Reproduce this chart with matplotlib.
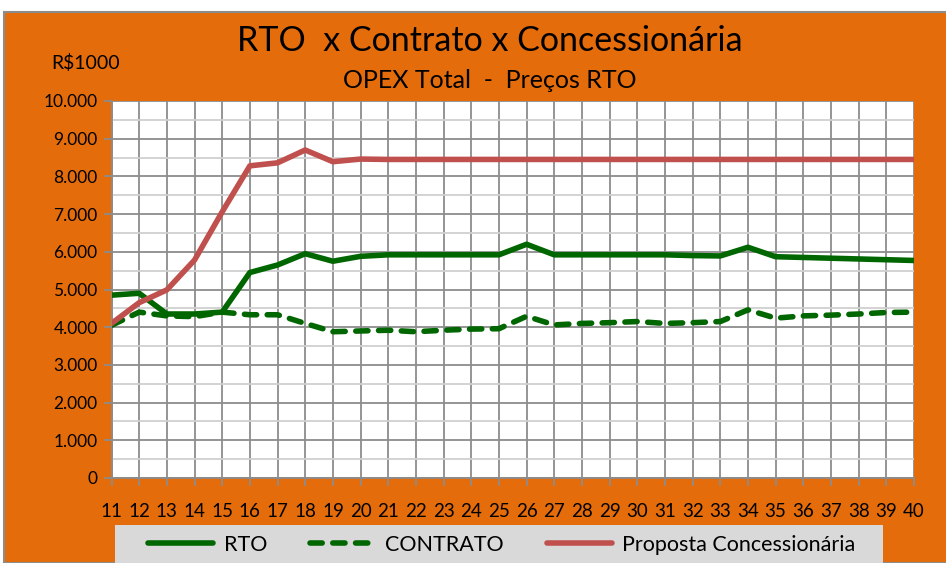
import matplotlib
matplotlib.use("Agg")
import matplotlib.pyplot as plt
from matplotlib.patches import Rectangle
from matplotlib.ticker import FuncFormatter, MultipleLocator
from matplotlib.lines import Line2D

plt.rcParams['font.family'] = ['Lato', 'DejaVu Sans']

anos = list(range(11, 41))
rto = [4850, 4900, 4350, 4350, 4400, 5450, 5650, 5950, 5750, 5880,
       5920, 5920, 5920, 5920, 5920, 6200, 5920, 5920, 5920, 5920,
       5920, 5900, 5890, 6120, 5870, 5850, 5830, 5810, 5790, 5770]
contrato = [4050, 4400, 4300, 4280, 4400, 4330, 4330, 4100, 3880, 3900,
            3920, 3880, 3920, 3950, 3960, 4290, 4060, 4100, 4120, 4150,
            4100, 4120, 4150, 4460, 4240, 4300, 4320, 4350, 4390, 4400]
proposta = [4100, 4650, 4990, 5780, 7060, 8280, 8360, 8700, 8390, 8460,
            8450, 8450, 8450, 8450, 8450, 8450, 8450, 8450, 8450, 8450,
            8450, 8450, 8450, 8450, 8450, 8450, 8450, 8450, 8450, 8450]

laranja = '#E46C0A'
verde = '#006600'
vermelho = '#C0504D'
tracos = (0, (2.2, 1.9))

fig = plt.figure(figsize=(9.46, 5.63), dpi=100)
fig.patch.set_facecolor('white')
fig.patches.append(Rectangle((4 / 946, 0), 1, (563 - 12) / 563, transform=fig.transFigure,
                             facecolor=laranja, edgecolor='#8c8c8c', lw=1.5, zorder=-2))
fig.patches.append(Rectangle((115 / 946, 0), (883 - 115) / 946, (563 - 525) / 563,
                             transform=fig.transFigure, facecolor='#d9d9d9', edgecolor='none', zorder=-1))

ax = fig.add_axes([111.5 / 946, 1 - 478 / 563, (914 - 111.5) / 946, (478 - 101) / 563])
ax.set_zorder(3)
ax.set_facecolor('white')
ax.plot(anos, rto, color=verde, lw=4, zorder=3)
ax.plot(anos, contrato, color=verde, lw=4, ls=tracos, dash_capstyle='round', zorder=3)
ax.plot(anos, proposta, color=vermelho, lw=4, zorder=3)

ax.set_xlim(11, 40)
ax.set_ylim(0, 10000)
ax.set_xticks(anos)
ax.yaxis.set_major_locator(MultipleLocator(1000))
ax.yaxis.set_minor_locator(MultipleLocator(500))
ax.yaxis.set_major_formatter(FuncFormatter(lambda v, p: f'{int(v):,}'.replace(',', '.')))
ax.grid(which='major', color='#8c8c8c', lw=1.3)
ax.grid(which='minor', axis='y', color='#d0d0d0', lw=1.3)
ax.set_axisbelow(True)
for s in ['top', 'right']:
    ax.spines[s].set_visible(False)
for s in ['left', 'bottom']:
    ax.spines[s].set_color('#8c8c8c')
    ax.spines[s].set_linewidth(1.3)
ax.tick_params(which='major', length=6, color='#8c8c8c', width=1.3)
ax.tick_params(which='minor', length=0)
ax.tick_params(axis='y', labelsize=12.5, pad=4)
ax.tick_params(axis='x', labelsize=13.5, pad=12)

fig.text(490 / 946, 1 - 41 / 563, 'RTO  x Contrato x Concessionária', ha='center', va='center',
         fontsize=24.5)
fig.text(490 / 946, 1 - 81 / 563, 'OPEX Total  -  Preços RTO', ha='center', va='center',
         fontsize=18)
fig.text(86 / 946, 1 - 63 / 563, 'R$1000', ha='center', va='center', fontsize=14)

handles = [Line2D([], [], color=verde, lw=4, solid_capstyle='round'),
           Line2D([], [], color=verde, lw=4, ls=tracos, dash_capstyle='round'),
           Line2D([], [], color=vermelho, lw=4, solid_capstyle='round')]
leg = fig.legend(handles, ['RTO', 'CONTRATO', 'Proposta Concessionária'], loc='center',
                 bbox_to_anchor=(502 / 946, 1 - 545 / 563), ncol=3, frameon=False,
                 fontsize=15.5, handlelength=3, handletextpad=0.5, columnspacing=2)

fig.savefig('out.png', dpi=100)
